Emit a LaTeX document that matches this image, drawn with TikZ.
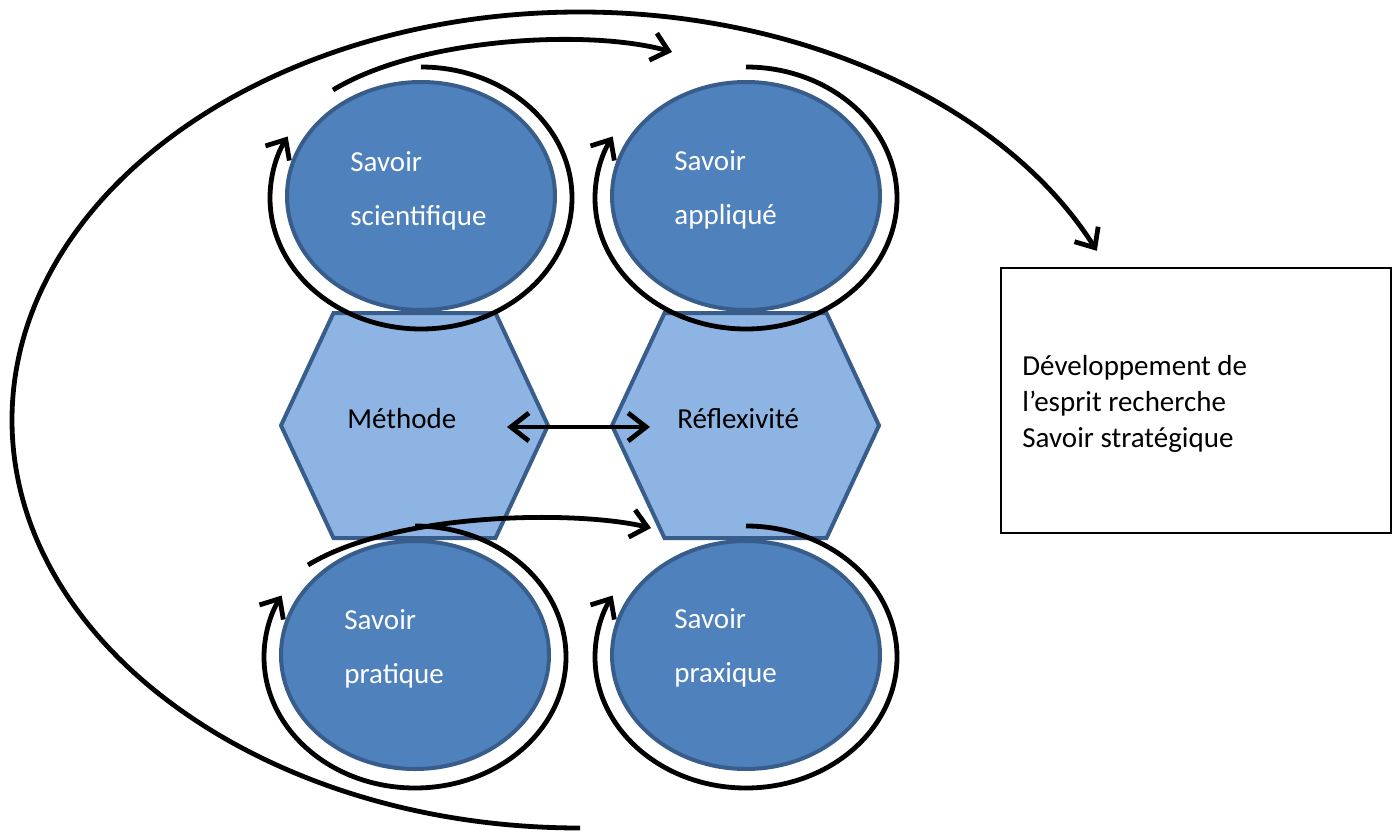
\documentclass[tikz,border=0pt]{standalone}
\usepackage{fontspec}
\setmainfont{Carlito}
\usetikzlibrary{shapes.geometric,arrows.meta,calc}
\definecolor{savblue}{HTML}{4F81BD}
\definecolor{rimblue}{HTML}{385D8A}
\definecolor{hexblue}{HTML}{8EB4E3}
\tikzset{
    savoir/.style={ellipse, draw=rimblue, fill=savblue, line width=2pt, minimum width=134pt, minimum height=114pt, inner sep=0pt},
    savtext/.style={anchor=base west, align=left, text=white, inner sep=0pt, font=\fontsize{14.5}{27}\selectfont},
    hexa/.style={draw=rimblue, fill=hexblue, line width=2pt},
    hextext/.style={anchor=base west, align=left, inner sep=0pt, font=\fontsize{14.5}{18}\selectfont},
    turn/.style={line width=2.4pt, -{Straight Barb[length=8pt,width=14pt]}},
    goalbox/.style={rectangle, draw, line width=1pt, minimum width=195pt, minimum height=132.5pt, inner sep=0pt}
}

\begin{document}
\begin{tikzpicture}[x=0.5pt,y=0.5pt]
    \useasboundingbox (0,0) rectangle (1397,832);
    % the four savoirs
    \node[savoir] (sci) at (421,636) {};
    \node[savoir] (app) at (746,636) {};
    \node[savoir] (pra) at (415,177) {};
    \node[savoir] (prx) at (746,177) {};
    % hexagons in the middle
    \coordinate (hm) at (414.5,406.5);
    \coordinate (hr) at (745.5,406.5);
    \foreach \h in {hm,hr}
        \draw[hexa] (\h) ++(-133.5,0) -- ++(52.5,112.5) -- ++(162,0) -- ++(52.5,-112.5) -- ++(-52.5,-112.5) -- ++(-162,0) -- cycle;
    \node[hextext] (meth) at (347,404) {Méthode};
    \node[hextext] (refl) at (677,404) {Réflexivité};
    \node[savtext] (scitxt) at (350,607) {Savoir\\scientifique};
    \node[savtext] (apptxt) at (674,608) {Savoir\\appliqué};
    \node[savtext] (pratxt) at (344,149) {Savoir\\pratique};
    \node[savtext] (prxtxt) at (674,150) {Savoir\\praxique};
    \node[goalbox] (strat) at (1196,431.5) {};
    \node[hextext] (strattxt) at (1022,385) {Développement de\\l’esprit recherche\\Savoir stratégique};
    % turning arrows round each savoir
    \foreach \s in {sci,app,pra,prx}
        \draw[turn] (\s.center) ++(0,-2) ++(90:151 and 131) arc[start angle=90, end angle=-208, x radius=151, y radius=131];
    \draw[line width=2.4pt, {Straight Barb[length=9pt,width=14pt]}-{Straight Barb[length=9pt,width=14pt]}] ($(hm)+(92.5,-1.5)$) -- ($(hr)+(-95.5,-1.5)$);
    \coordinate (t1) at (333,742);
    \coordinate (t2) at (672,780);
    \draw[turn] (t1) .. controls (420,795) and (590,803) .. (t2);
    \coordinate (m1) at (308,267);
    \coordinate (m2) at (651,304);
    \draw[turn] (m1) .. controls (395,320) and (575,322) .. (m2);
    % the big loop down to the box
    \coordinate (orbit) at (580,412);
    \draw[turn] (orbit) ++(270:568 and 408) arc[start angle=270, end angle=24.5, x radius=568, y radius=408];
\end{tikzpicture}
\end{document}
